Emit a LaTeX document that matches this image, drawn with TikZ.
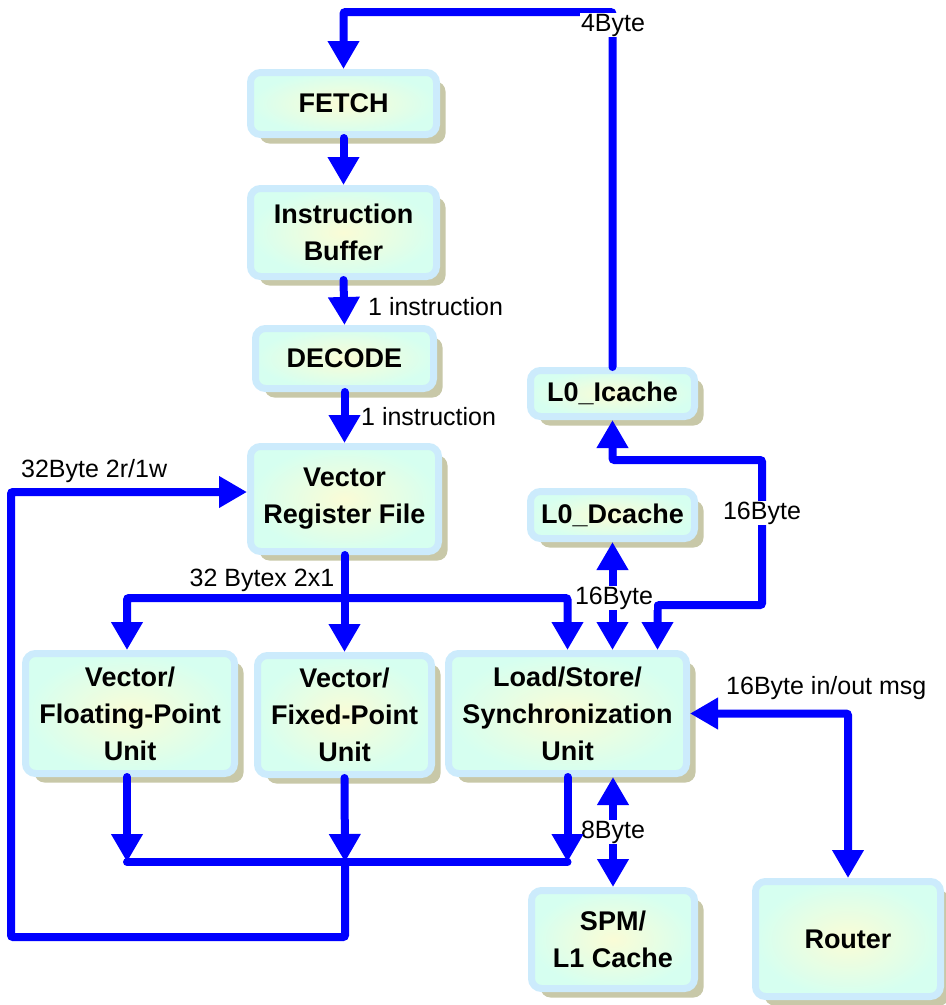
\documentclass[tikz,border=0pt]{standalone}
\usepackage{fontspec}
\setmainfont{Liberation Sans}
\usetikzlibrary{arrows.meta,shadows}

\definecolor{busblue}{RGB}{0,0,255}
\definecolor{unitedge}{RGB}{204,235,252}
\definecolor{unitfill}{RGB}{214,255,240}
\definecolor{unitglow}{RGB}{250,252,214}
\definecolor{unitshadow}{RGB}{200,200,168}

\begin{document}
\begin{tikzpicture}[x=1pt,y=-1pt,>={Triangle[length=28pt,width=30pt]},
    unit node/.style={rectangle,rounded corners=10pt,draw=unitedge,line width=7pt,
      inner color=unitglow,outer color=unitfill,
      drop shadow={shadow xshift=9pt,shadow yshift=-9pt,fill=unitshadow,opacity=1},
      align=center,font=\fontsize{27}{37}\selectfont\bfseries},
    bus/.style={draw=busblue,line width=8pt,line cap=round,rounded corners=2pt},
    wire label/.style={font=\fontsize{25}{28}\selectfont,inner sep=1pt}]

  \useasboundingbox (0,0) rectangle (946,1005);

  % pipeline
  \node[unit node,minimum width=186pt,minimum height=62pt] (fetch) at (343.5,103.5) {FETCH};
  \node[unit node,minimum width=186pt,minimum height=88pt] (ibuf) at (343.5,232.5) {Instruction\\Buffer};
  \node[unit node,minimum width=178pt,minimum height=60pt] (decode) at (344.5,358.5) {DECODE};
  \node[unit node,minimum width=188pt,minimum height=105pt] (vrf) at (344.5,499) {Vector\\Register File};

  % execution units
  \node[unit node,minimum width=209pt,minimum height=120pt] (fpu) at (130,713.5) {Vector/\\Floating-Point\\Unit};
  \node[unit node,minimum width=174pt,minimum height=119pt] (fxu) at (344.5,715) {Vector/\\Fixed-Point\\Unit};
  \node[unit node,minimum width=238pt,minimum height=120pt] (lsu) at (567.5,713.5) {Load/Store/\\Synchronization\\Unit};

  % memories
  \node[unit node,minimum width=164pt,minimum height=46pt] (icache) at (612.5,393.5) {L0\_Icache};
  \node[unit node,minimum width=164pt,minimum height=47pt] (dcache) at (612.5,515) {L0\_Dcache};
  \node[unit node,minimum width=163pt,minimum height=98pt] (spm) at (613,939.5) {SPM/\\L1 Cache};
  \node[unit node,minimum width=185pt,minimum height=115pt] (router) at (848,939) {Router};

  \coordinate (ibend) at (762,460);
  \coordinate (busM) at (345,862);
  \coordinate (fbL) at (11,937);

  \draw[bus,->] (icache.north) -- (icache.north |- 0,12) -| (fetch.north);
  \node[wire label,fill=white] at (613,25) {4Byte};

  \draw[bus,->] (fetch.south) -- (ibuf.north);
  \draw[bus,->] (ibuf.south) -- (decode.north);
  \node[wire label,anchor=west] at (367,307) {1 instruction};
  \draw[bus,->] (decode.south) -- (vrf.north);
  \node[wire label,anchor=west] at (360,417) {1 instruction};

  % register file to the units
  \draw[bus,->] (vrf.south) -- (fxu.north);
  \draw[bus,<->] ([xshift=-3pt]fpu.north) -- ++(0,-52) -| (lsu.north);
  \node[wire label] at (262,580) {32 Bytex 2x1};

  \draw[bus,<->] (dcache.south) -- (dcache.south |- lsu.north);
  \draw[bus,<->] (icache.south) |- (ibend) |- ([xshift=90pt]lsu.north |- 0,605) -- ([xshift=90pt]lsu.north);
  \node[wire label,fill=white] at (614,598) {16Byte};
  \node[wire label,fill=white] at (762,513) {16Byte};

  \draw[bus,<->] (lsu.east) -| (router.north);
  \node[wire label,anchor=west] at (725,688) {16Byte in/out msg};

  \draw[bus,<->] (lsu.south -| spm.north) -- (spm.north);
  \node[wire label,fill=white] at (613,832) {8Byte};

  % write back
  \draw[bus,->] ([xshift=-3pt]fpu.south) -- ([xshift=-3pt]fpu.south |- busM);
  \draw[bus,->] (fxu.south) -- (busM);
  \draw[bus,->] (lsu.south) -- (lsu.south |- busM);
  \draw[bus] ([xshift=-3pt]fpu.south |- busM) -- (lsu.south |- busM);
  \draw[bus,->] (busM) |- (fbL) |- ([yshift=7pt]vrf.west);
  \node[wire label,anchor=west] at (20,471) {32Byte 2r/1w};
\end{tikzpicture}
\end{document}
